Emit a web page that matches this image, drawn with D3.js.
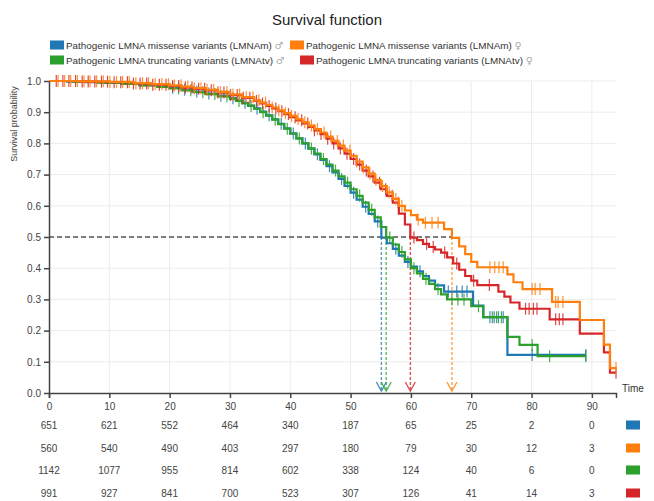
<!DOCTYPE html>
<html><head><meta charset="utf-8">
<script src="https://cdn.jsdelivr.net/npm/d3@7"></script>
<style>body{margin:0;background:#fff}svg{display:block;font-family:"Liberation Sans",Arial,sans-serif}</style>
</head><body><svg id="c" width="654" height="501"></svg>
<script>
// ---------- data ----------
const seriesNames = [
  "Pathogenic LMNA missense variants (LMNAm)",
  "Pathogenic LMNA missense variants (LMNAm)",
  "Pathogenic LMNA truncating variants (LMNAtv)",
  "Pathogenic LMNA truncating variants (LMNAtv)"
];
const seriesSex = ["♂", "♀", "♂", "♀"];
const seriesColors = ["#1f77b4", "#ff7f0e", "#2ca02c", "#d62728"];

// [time, survival] after each step
const blueSteps = [[0,1],[3,0.998],[6,0.996],[9,0.994],[12,0.991],[15,0.987],[18,0.982],[20,0.978],[22,0.972],[24,0.966],[26,0.96],[28,0.953],[30,0.945],[31,0.938],[32,0.93],[33,0.921],[34,0.912],[35,0.902],[36,0.89],[37,0.877],[38,0.863],[39,0.848],[40,0.832],[41,0.816],[42,0.8],[43,0.783],[44,0.765],[45,0.747],[46,0.727],[47,0.707],[48,0.686],[49,0.664],[50,0.642],[51,0.62],[52,0.597],[53,0.574],[54,0.55],[55.1,0.498],[56,0.48],[57,0.462],[58,0.44],[59,0.42],[60,0.405],[61,0.39],[62,0.375],[63,0.36],[64,0.345],[65.5,0.325],[70.3,0.28],[72,0.243],[76,0.122]];
const orangeSteps = [[0,1],[5,0.999],[10,0.997],[14,0.993],[17,0.99],[20,0.986],[22,0.982],[24,0.977],[26,0.972],[28,0.965],[30,0.957],[32,0.948],[34,0.938],[35,0.931],[36,0.923],[37,0.915],[38,0.906],[39,0.897],[40,0.888],[41,0.878],[42,0.868],[43,0.857],[44,0.846],[45,0.835],[46,0.822],[47,0.808],[48,0.793],[49,0.777],[50,0.76],[51,0.742],[52,0.723],[53,0.703],[54,0.683],[55,0.663],[56,0.643],[57,0.622],[58,0.6],[59,0.585],[60,0.57],[61,0.556],[62,0.546],[65.5,0.525],[66.8,0.497],[68,0.47],[69,0.445],[70,0.42],[71,0.403],[76,0.38],[77,0.355],[78.5,0.333],[83.4,0.292],[88,0.234],[92,0.155],[93,0.08]];
const greenSteps = [[0,1],[4,0.998],[8,0.995],[12,0.991],[15,0.986],[18,0.981],[20,0.976],[22,0.97],[24,0.964],[26,0.958],[28,0.951],[30,0.943],[31,0.936],[32,0.928],[33,0.92],[34,0.911],[35,0.9],[36,0.889],[37,0.876],[38,0.862],[39,0.847],[40,0.831],[41,0.816],[42,0.8],[43,0.784],[44,0.767],[45,0.75],[46,0.732],[47,0.713],[48,0.694],[49,0.674],[50,0.653],[51,0.632],[52,0.61],[53,0.587],[54,0.563],[55,0.532],[55.9,0.498],[57,0.476],[58,0.452],[59,0.428],[60,0.4],[61,0.383],[62,0.366],[63,0.35],[64,0.333],[65,0.316],[66,0.3],[70,0.278],[72,0.243],[76,0.18],[78,0.154],[81,0.118]];
const redSteps = [[0,1],[5,0.998],[10,0.996],[14,0.992],[17,0.988],[20,0.984],[22,0.979],[24,0.975],[26,0.97],[28,0.963],[30,0.955],[32,0.946],[34,0.936],[35,0.928],[36,0.92],[37,0.912],[38,0.903],[39,0.894],[40,0.884],[41,0.874],[42,0.864],[43,0.853],[44,0.842],[45,0.83],[46,0.815],[47,0.8],[48,0.784],[49,0.767],[50,0.75],[51,0.732],[52,0.713],[53,0.694],[54,0.674],[55,0.653],[56,0.632],[57,0.61],[58,0.575],[59,0.54],[59.9,0.498],[61,0.49],[62,0.478],[63,0.468],[64,0.46],[65,0.45],[66,0.435],[67,0.415],[68,0.395],[69,0.375],[70,0.36],[71,0.346],[74.5,0.325],[75.5,0.309],[76.5,0.29],[78,0.27],[83,0.236],[88,0.19],[92,0.13],[93,0.065]];
const seriesEnd = [89, 94, 89, 94];

// censoring times
const blueCens = [20.5,22.5,24.5,26.5,28.5,30.5,32.5,34.5,36.5,38.5,40.5,42.5,44.5,46.5,48.5,50.5,52.5,54.5,57.5,59.5,61.5,66.2,67.6,68.5,69.3,73.1,73.8,74.5,75.3,80.1,89];
const orangeCens = [1.5,2.6,3.6,4.7,5.8,6.8,7.9,9,10.1,11.2,12.2,13.3,14.4,15.5,16.5,17.6,18.7,19.8,20.8,21.9,23,24.1,25.2,26.2,27.3,28.4,29.5,30.5,31.6,32.7,33.8,34.8,35.9,37,38.1,39.2,40.2,41.3,42.4,43.5,44.5,45.6,46.7,47.8,48.8,49.9,51,52.1,53.2,54.2,55.3,56.4,57.5,58.5,61.2,62.4,63.5,64.5,73.1,73.9,74.6,75.3,80.1,80.6,81.4,84,84.4,85.2,94];
const greenCens = [21.5,23.5,25.5,27.5,29.5,31.5,33.5,35.5,37.5,39.5,41.5,43.5,45.5,47.5,49.5,51.5,53.5,56.5,58.5,60.5,62.5,64.5,66.8,67.8,68.8,71.2,73.5,74.2,75,80.1,83,89];
const redCens = [1.2,2.3,3.3,4.4,5.5,6.5,7.6,8.7,9.7,10.8,11.9,13,14,15.1,16.2,17.2,18.3,19.4,20.5,21.5,22.6,23.7,24.8,25.8,26.9,28,29,30.1,31.2,32.2,33.3,34.4,35.4,36.5,37.6,38.6,39.7,40.8,41.9,42.9,44,45.1,46.2,47.2,48.3,49.4,50.5,51.5,52.6,53.7,54.8,55.8,56.9,57.9,60.5,62.6,63.7,65.6,67.6,70.4,73,79,79.6,80.3,80.9,84,84.6,85.2,94];

const xTicks = [0,10,20,30,40,50,60,70,80,90];
const yTicks = [0,0.1,0.2,0.3,0.4,0.5,0.6,0.7,0.8,0.9,1.0];
const riskBlue   = [651,621,552,464,340,187,65,25,2,0];
const riskOrange = [560,540,490,403,297,180,79,30,12,3];
const riskGreen  = [1142,1077,955,814,602,338,124,40,6,0];
const riskRed    = [991,927,841,700,523,307,126,41,14,3];

// ---------- build ----------
const series = [
  {steps: blueSteps,   cens: blueCens,   risk: riskBlue},
  {steps: orangeSteps, cens: orangeCens, risk: riskOrange},
  {steps: greenSteps,  cens: greenCens,  risk: riskGreen},
  {steps: redSteps,    cens: redCens,    risk: riskRed}
].map((s, i) => ({...s, name: seriesNames[i], sex: seriesSex[i], color: seriesColors[i], end: seriesEnd[i]}));

const svg = d3.select("#c");
const L = 49, R = 616, T = 81, B = 393;
const x = d3.scaleLinear().domain([0, 94]).range([L, R]);
const y = d3.scaleLinear().domain([0, 1]).range([B, T]);

// title
svg.append("text").attr("x", 327).attr("y", 25).attr("text-anchor", "middle")
  .attr("font-size", 15).attr("fill", "#222").text("Survival function");

// legend
const legendPos = [[50, 45], [290, 45], [50, 60], [300, 60]];
series.forEach((s, i) => {
  const [lx, ly] = legendPos[i];
  svg.append("rect").attr("x", lx).attr("y", ly - 4.5).attr("width", 14).attr("height", 9).attr("fill", s.color);
  const t = svg.append("text").attr("x", lx + 16).attr("y", ly + 3.5).attr("font-size", 9.9).attr("fill", "#333");
  t.append("tspan").text(s.name + " ");
  t.append("tspan").attr("fill", "#aaa").attr("font-family", "DejaVu Sans").text(s.sex);
});

// grid
const g = svg.append("g");
g.selectAll(".vg").data(xTicks.filter(d => d > 0)).join("line")
  .attr("x1", d => x(d)).attr("x2", d => x(d)).attr("y1", T).attr("y2", B)
  .attr("stroke", "#ececec").attr("stroke-width", 1);
g.selectAll(".hg").data(yTicks.filter(d => d > 0)).join("line")
  .attr("x1", L).attr("x2", R).attr("y1", d => y(d)).attr("y2", d => y(d))
  .attr("stroke", "#ececec").attr("stroke-width", 1);

// median lines
const medians = series.map(s => {
  const p = s.steps.find(d => d[1] <= 0.5);
  return p ? p[0] : null;
});
const maxMed = d3.max(medians);
svg.append("line").attr("x1", L).attr("x2", x(maxMed)).attr("y1", y(0.5)).attr("y2", y(0.5))
  .attr("stroke", "#555").attr("stroke-width", 1.4).attr("stroke-dasharray", "5,3");
series.forEach((s, i) => {
  const m = medians[i];
  svg.append("line").attr("x1", x(m)).attr("x2", x(m)).attr("y1", y(0.5)).attr("y2", B - 2)
    .attr("stroke", s.color).attr("stroke-opacity", 0.75).attr("stroke-width", 1.4).attr("stroke-dasharray", "3,2");
  svg.append("path").attr("d", `M${x(m) - 5},${B - 11}L${x(m)},${B - 2}L${x(m) + 5},${B - 11}`)
    .attr("fill", "none").attr("stroke", s.color).attr("stroke-opacity", 0.8).attr("stroke-width", 1.4);
});

// curves
const line = d3.line().x(d => x(d[0])).y(d => y(d[1])).curve(d3.curveStepAfter);
const stepAt = (steps, t) => { let v = 1; for (const d of steps) { if (d[0] <= t) v = d[1]; else break; } return v; };
[0, 2, 3, 1].forEach(i => {
  const s = series[i];
  const pts = s.steps.concat([[s.end, s.steps[s.steps.length - 1][1]]]);
  svg.append("path").attr("d", line(pts)).attr("fill", "none")
    .attr("stroke", s.color).attr("stroke-width", 2.2);
  svg.append("g").selectAll("line").data(s.cens).join("line")
    .attr("x1", d => x(d)).attr("x2", d => x(d))
    .attr("y1", d => y(stepAt(s.steps, d)) - 6).attr("y2", d => y(stepAt(s.steps, d)) + 6)
    .attr("stroke", s.color).attr("stroke-opacity", 0.85).attr("stroke-width", 1.2);
});

// axes
const xAxis = svg.append("g").attr("transform", `translate(0,${B})`)
  .call(d3.axisBottom(x).tickValues(xTicks).tickSize(5).tickSizeOuter(5).tickFormat(d3.format("d")));
const yAxis = svg.append("g").attr("transform", `translate(${L},0)`)
  .call(d3.axisLeft(y).tickValues(yTicks).tickSize(5).tickSizeOuter(0).tickFormat(d3.format(".1f")));
[xAxis, yAxis].forEach(a => {
  a.selectAll("path,line").attr("stroke", "#444").attr("stroke-width", 1.5);
  a.selectAll("text").attr("fill", "#444").attr("font-size", 10).attr("font-family", "Liberation Sans, Arial, sans-serif");
});
xAxis.selectAll("text").attr("dy", "0.9em");

svg.append("text").attr("x", 633).attr("y", 392).attr("text-anchor", "middle")
  .attr("font-size", 10).attr("fill", "#333").text("Time");
svg.append("text").attr("transform", "translate(17,124) rotate(-90)").attr("text-anchor", "middle")
  .attr("font-size", 9).attr("fill", "#444").text("Survival probability");

// risk table
const rowY = [425, 448, 470, 493];
series.forEach((s, i) => {
  svg.append("g").selectAll("text").data(s.risk).join("text")
    .attr("x", (d, j) => x(xTicks[j])).attr("y", rowY[i]).attr("dy", "0.35em")
    .attr("text-anchor", "middle").attr("font-size", 10).attr("fill", "#444").text(d => d);
  svg.append("rect").attr("x", 626).attr("y", rowY[i] - 4.5).attr("width", 14).attr("height", 9).attr("fill", s.color);
});
</script></body></html>
